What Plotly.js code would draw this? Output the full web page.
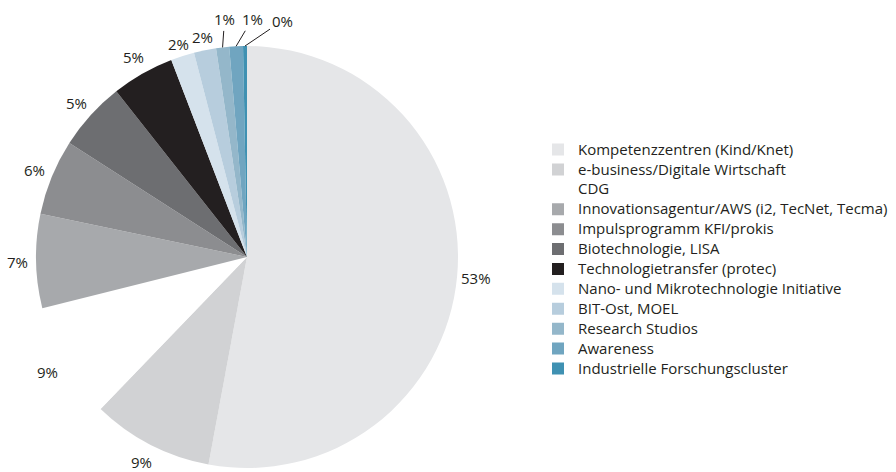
<!DOCTYPE html>
<html>
<head>
<meta charset="utf-8">
<script src="https://cdn.plot.ly/plotly-3.0.1.min.js"></script>
<style>html,body{margin:0;padding:0;background:#fff;}#chart{width:896px;height:472px;}</style>
</head>
<body>
<div id="chart"></div>
<script>
const categories = [
  "Kompetenzzentren (Kind/Knet)",
  "e-business/Digitale Wirtschaft",
  "CDG",
  "Innovationsagentur/AWS (i2, TecNet, Tecma)",
  "Impulsprogramm KFI/prokis",
  "Biotechnologie, LISA",
  "Technologietransfer (protec)",
  "Nano- und Mikrotechnologie Initiative",
  "BIT-Ost, MOEL",
  "Research Studios",
  "Awareness",
  "Industrielle Forschungscluster"
];
const shares = [53.0, 9.3, 8.9, 7.2, 5.8, 5.3, 4.8, 1.8, 1.7, 1.0, 1.05, 0.3];
const sliceColors = ["#e5e6e8", "#d1d2d4", "#ffffff", "#a7a9ac", "#8c8d90", "#6d6e71", "#231f20",
                     "#d5e2ec", "#b7cddd", "#94b7ca", "#70a5c0", "#3f91b2"];

const W = 896, H = 472;
const M = {l: 0, r: 0, t: 46, b: 4, autoexpand: false};
const dom = {x: [36 / W, 458 / W], y: [0, 1]};
const textColor = "#231f20";
const labelFont = {family: "Open Sans", size: 15, color: textColor};

const total = shares.reduce((a, b) => a + b, 0);

// pie geometry derived from the domain
const plotW = W - M.l - M.r, plotH = H - M.t - M.b;
const cxPx = M.l + plotW * (dom.x[0] + dom.x[1]) / 2;
const cyPx = M.t + plotH * (1 - (dom.y[0] + dom.y[1]) / 2);
const rPx = Math.min(plotW * (dom.x[1] - dom.x[0]), plotH * (dom.y[1] - dom.y[0])) / 2;
const toPaperX = px => (px - M.l) / plotW;
const toPaperY = py => 1 - (py - M.t) / plotH;

// percentage labels: plain labels along each slice's mid-angle, callouts for the tiniest slices
const calloutOffsets = {9: [2, -28], 10: [16, -27], 11: [37, -25]};
const annotations = [];
let cum = 0;
shares.forEach((v, i) => {
  const mid = (cum + v / 2) / total * 2 * Math.PI;
  cum += v;
  const pctText = Math.round(v / total * 100) + "%";
  if (calloutOffsets[i]) {
    const hx = cxPx + rPx * Math.sin(mid), hy = cyPx - rPx * Math.cos(mid);
    annotations.push({
      x: toPaperX(hx), y: toPaperY(hy), xref: "paper", yref: "paper",
      text: pctText, showarrow: true, arrowhead: 0, arrowwidth: 1, arrowcolor: textColor,
      ax: calloutOffsets[i][0], ay: calloutOffsets[i][1], standoff: 0, startstandoff: 0,
      font: labelFont
    });
  } else {
    const rr = rPx + (v < 3 ? 13 : 19);
    const tx = cxPx + rr * Math.sin(mid), ty = cyPx - rr * Math.cos(mid);
    annotations.push({
      x: toPaperX(tx), y: toPaperY(ty), xref: "paper", yref: "paper",
      text: pctText, showarrow: false, xanchor: "center", yanchor: "middle",
      font: labelFont
    });
  }
});

const trace = {
  type: "pie",
  labels: categories.map(c => '<span style="font-size:15px">' + c + '</span>'),
  values: shares,
  sort: false,
  direction: "clockwise",
  rotation: 0,
  marker: {colors: sliceColors, line: {width: 0}},
  textinfo: "none",
  hoverinfo: "none",
  domain: dom,
  automargin: false
};

const layout = {
  width: W, height: H,
  margin: M,
  paper_bgcolor: "#ffffff",
  showlegend: true,
  legend: {
    x: 538 / W, xanchor: "left",
    y: 0.495, yanchor: "middle",
    font: {family: "Open Sans", size: 13, color: textColor},
    bgcolor: "rgba(0,0,0,0)"
  },
  annotations: annotations,
  font: {family: "Open Sans", color: textColor}
};

Plotly.newPlot("chart", [trace], layout, {staticPlot: true, displayModeBar: false});
</script>
</body>
</html>
